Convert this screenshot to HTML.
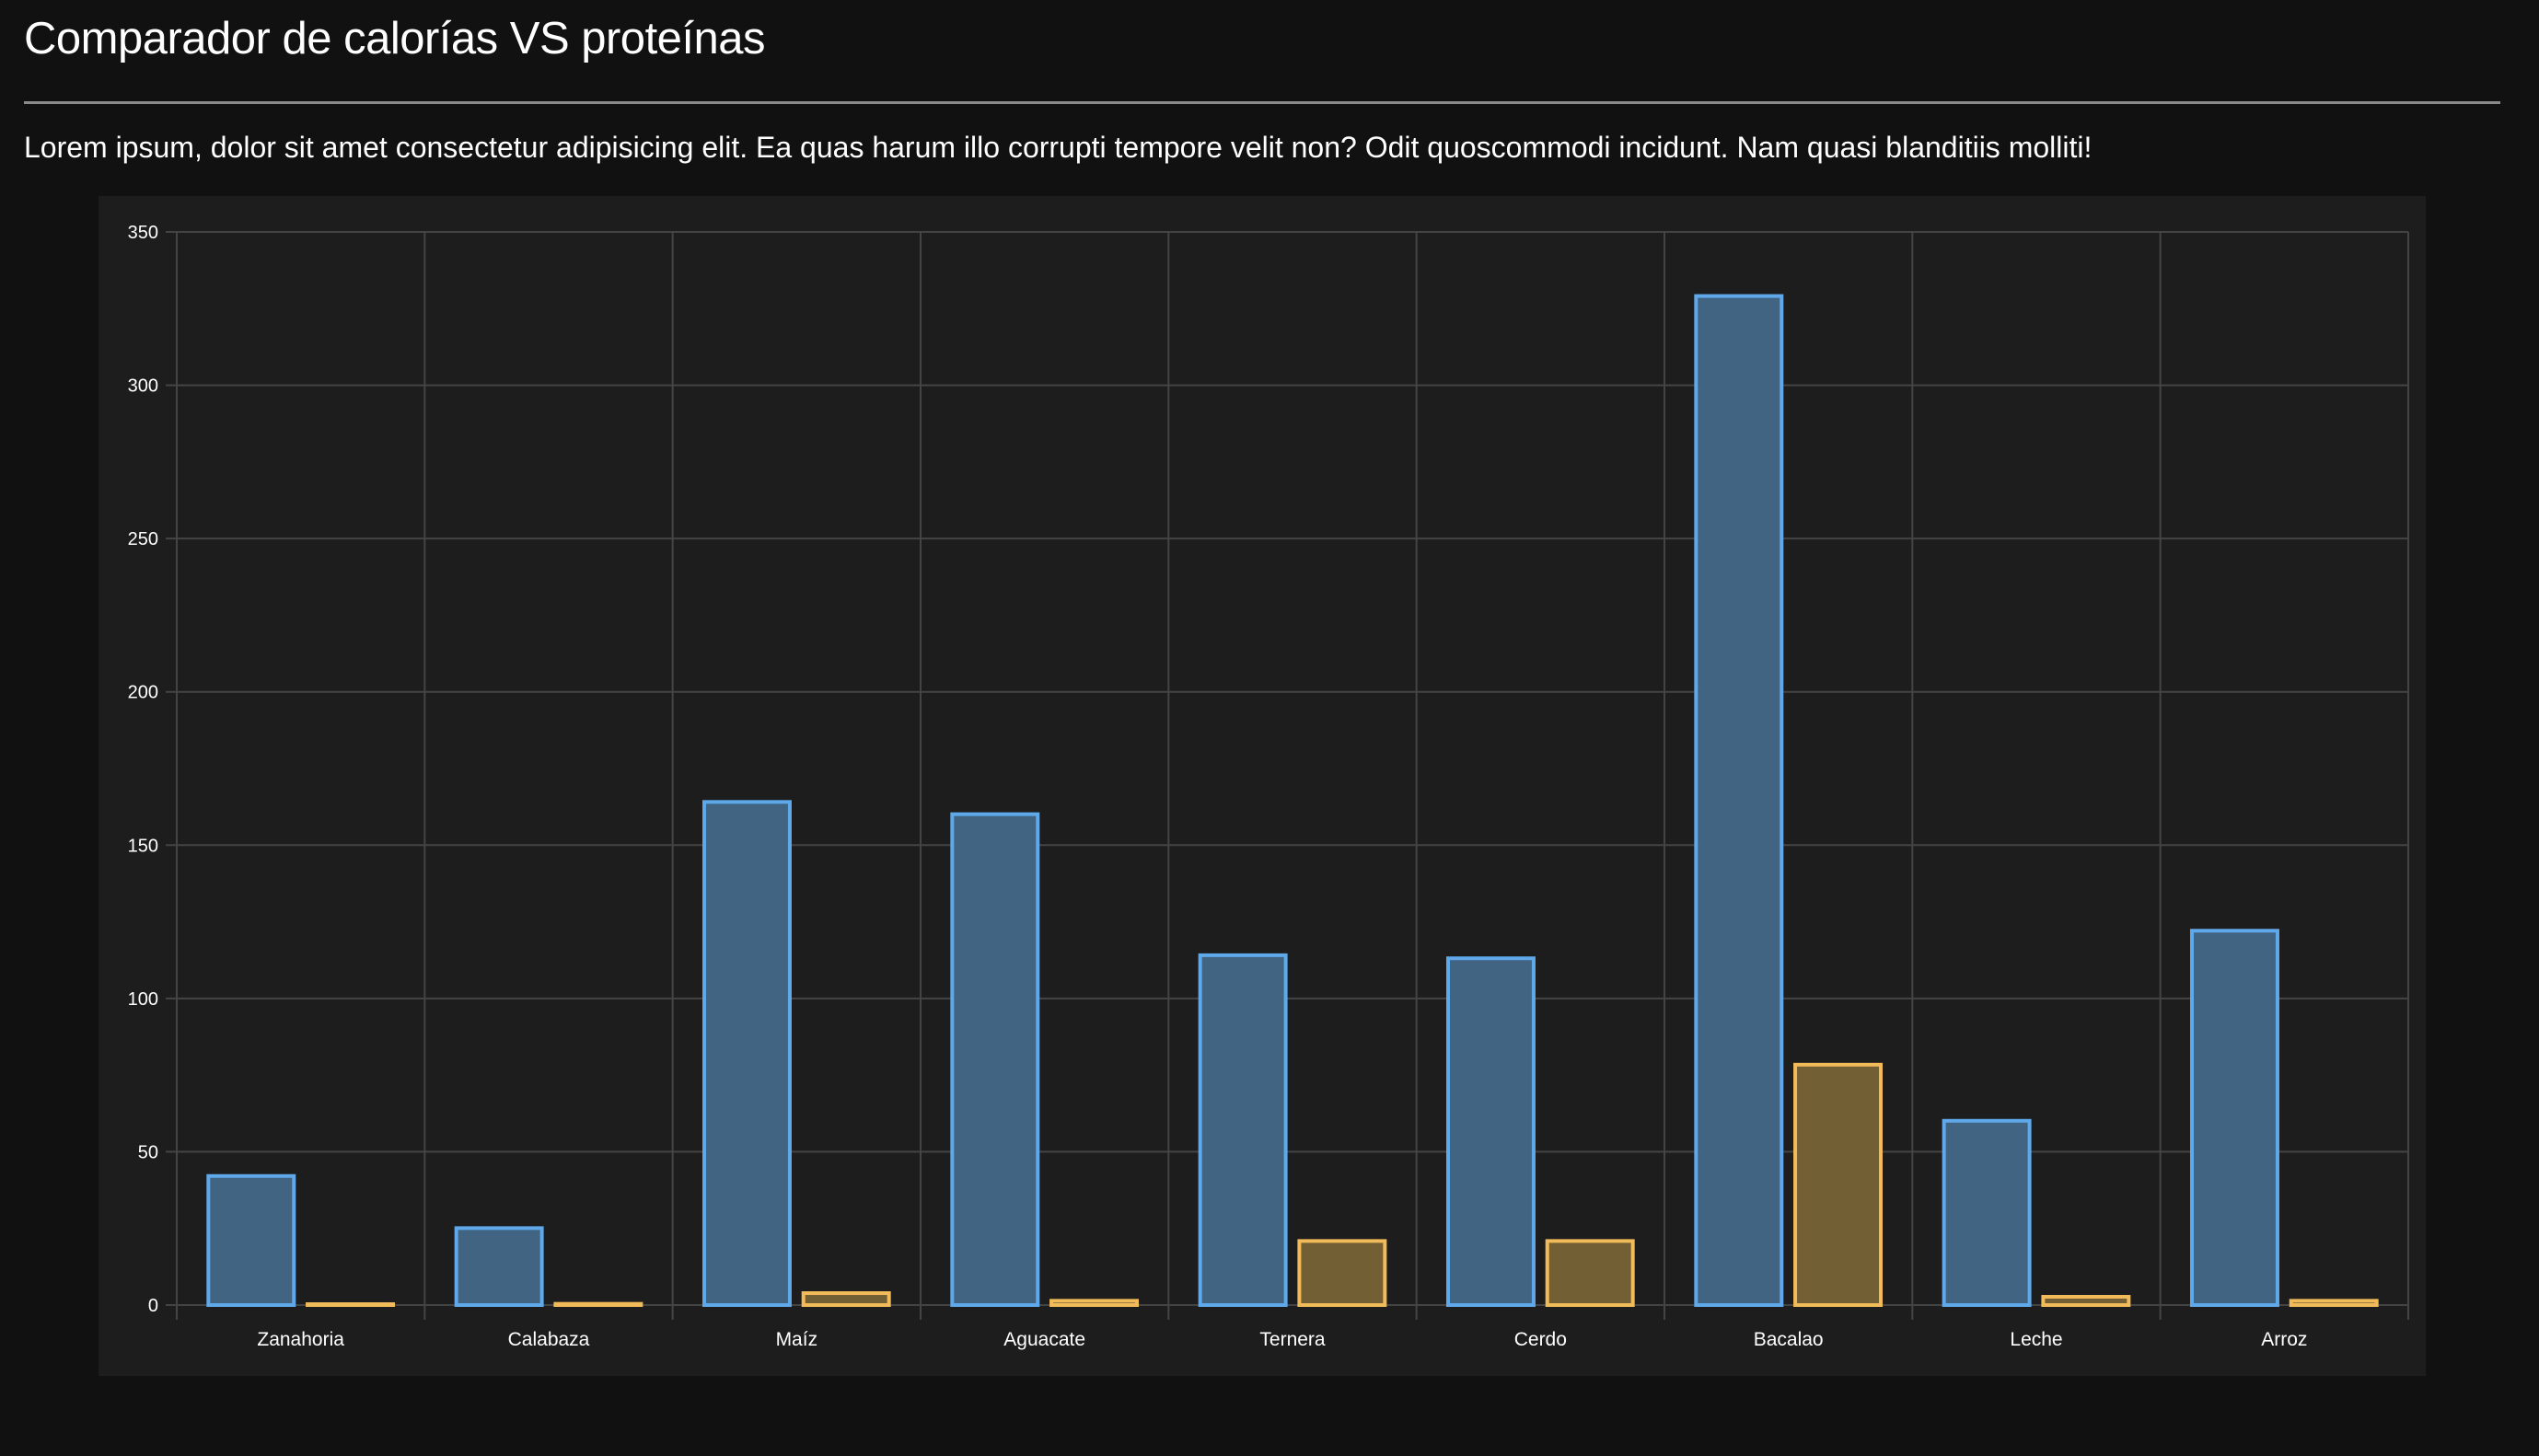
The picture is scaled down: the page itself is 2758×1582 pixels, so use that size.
<!DOCTYPE html>
<html><head><meta charset="utf-8"><style>
html,body{margin:0;padding:0;background:#111;width:2758px;height:1582px;overflow:hidden;font-family:"Liberation Sans",sans-serif;color:#fff}
h1{position:absolute;left:26px;top:14px;margin:0;font-size:49px;font-weight:normal;letter-spacing:-0.5px}
hr{position:absolute;left:26px;top:110px;width:2690px;margin:0;border:0;height:3px;background:#8a8a8a}
p{position:absolute;left:26px;top:142px;margin:0;font-size:32px;white-space:nowrap}
#panel{position:absolute;left:107px;top:213px;width:2528px;height:1282px;background:#1d1d1d}
svg{position:absolute;left:0;top:0}
</style></head><body>
<h1>Comparador de calorías VS proteínas</h1>
<hr>
<p>Lorem ipsum, dolor sit amet consectetur adipisicing elit. Ea quas harum illo corrupti tempore velit non? Odit quoscommodi incidunt. Nam quasi blanditiis molliti!</p>
<div id="panel"></div>
<svg id="chart" width="2758" height="1582"></svg>
<script>
const categories=["Zanahoria","Calabaza","Maíz","Aguacate","Ternera","Cerdo","Bacalao","Leche","Arroz"];
const calories=[42.7,25.7,164.7,160.7,114.7,113.7,329.7,60.7,122.7];
const proteins=[0.9,1,4.5,2,21.5,21.5,79,3.3,2];
const yTicks=[0,50,100,150,200,250,300,350];
const NS="http://www.w3.org/2000/svg";
const svg=document.getElementById('chart');
const L=192,R=2616,T=252,B=1418,yMax=350;
const y=v=>B-(v/yMax)*(B-T);
const cw=(R-L)/categories.length;
const xCat=i=>L+i*cw;
function mk(tag,attrs){const e=document.createElementNS(NS,tag);for(const k in attrs)e.setAttribute(k,attrs[k]);svg.appendChild(e);return e;}
yTicks.forEach(t=>{
  const g=mk('line',{x1:L-12,x2:R,y1:y(t),y2:y(t),stroke:'#444','stroke-width':2});
  
  
  const tx=mk('text',{x:L-20,y:y(t)+7,fill:'#fff','font-size':20,'text-anchor':'end','font-family':'Liberation Sans, sans-serif'});
  tx.textContent=t;
  
  
});
for(let i=0;i<=categories.length;i++){
  const g=mk('line',{x1:xCat(i),x2:xCat(i),y1:T,y2:B+16,stroke:'#444','stroke-width':2});
  
  
}
const slot=cw*0.8/2,bw=slot*0.9;
categories.forEach((c,i)=>{
  const x0=xCat(i)+cw*0.1;
  const b1=mk('rect',{x:x0+(slot-bw)/2+2,y:y(calories[i])+2,width:bw-4,height:Math.max(0,B-y(calories[i])-2),fill:'#416483',stroke:'#5fa8ea','stroke-width':4});
  
  
  const b2=mk('rect',{x:x0+slot+(slot-bw)/2+2,y:y(proteins[i])+2,width:bw-4,height:Math.max(0,B-y(proteins[i])-2),fill:'#735f34',stroke:'#f2bb5a','stroke-width':4});
  
  
  const tx=mk('text',{x:xCat(i)+cw/2,y:1462,fill:'#fff','font-size':21,'text-anchor':'middle','font-family':'Liberation Sans, sans-serif'});
  tx.textContent=c;
  
  
});
</script>
</body></html>
